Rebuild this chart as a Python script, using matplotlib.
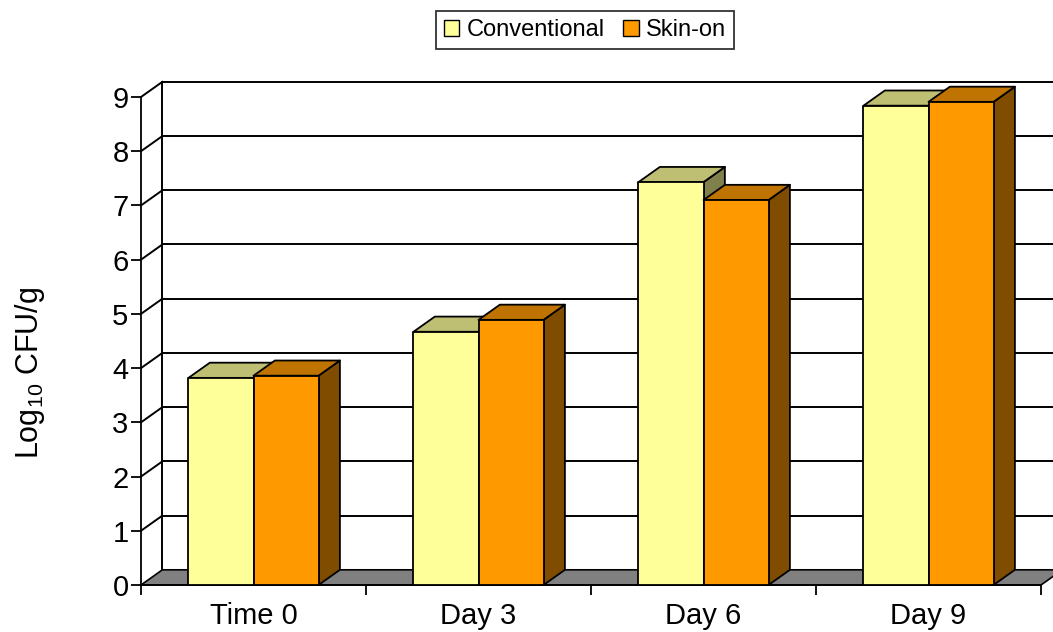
import matplotlib.pyplot as plt
from matplotlib.patches import Polygon, Patch

plt.rcParams['font.family'] = ['Liberation Sans', 'DejaVu Sans']
plt.rcParams['mathtext.fontset'] = 'custom'
plt.rcParams['mathtext.rm'] = 'Liberation Sans'
plt.rcParams['mathtext.it'] = 'Liberation Sans:italic'

categories = ['Time 0', 'Day 3', 'Day 6', 'Day 9']
conventional = [3.82, 4.67, 7.43, 8.84]
skin_on = [3.86, 4.89, 7.10, 8.91]

series = [('Conventional', conventional, (1.0, 1.0, 0.6)),
          ('Skin-on', skin_on, (1.0, 0.6, 0.0))]

# depth of the 3-D box, in data units
DX = 0.095
DY = 0.28
BAR_W = 0.289

fig = plt.figure(figsize=(10.53, 6.32), dpi=100)
ax = fig.add_axes([141 / 1053, 47 / 632, 900 / 1053, 488 / 632])
ax.set_xlim(0, len(categories))
ax.set_ylim(0, 9)
ax.patch.set_visible(False)

for s in ['top', 'right']:
    ax.spines[s].set_visible(False)
ax.spines['left'].set_linewidth(1.3)
ax.spines['bottom'].set_linewidth(1.3)

ax.set_yticks(range(10))
ax.tick_params(axis='y', direction='out', length=7, width=1.3, labelsize=21, pad=2)
ax.set_xticks(range(len(categories) + 1))
ax.set_xticklabels([])
ax.tick_params(axis='x', which='major', direction='out', length=7, width=1.3)
ax.set_xticks([i + 0.5 for i in range(len(categories))], minor=True)
ax.set_xticklabels(categories, minor=True, fontsize=21)
ax.tick_params(axis='x', which='minor', length=0, pad=12)

# walls and gridlines
x_end = len(categories) + 0.3
for v in range(1, 10):
    ax.plot([0, DX], [v, v + DY], color='black', lw=1.4, clip_on=False, zorder=1)
    ax.plot([DX, x_end], [v + DY, v + DY], color='black', lw=1.4, clip_on=False, zorder=1)
ax.plot([DX, DX], [DY, 9 + DY], color='black', lw=1.4, clip_on=False, zorder=1)

# floor
floor = Polygon([(0, 0), (len(categories), 0), (len(categories) + DX, DY), (DX, DY)],
                closed=True, facecolor='#808080', edgecolor='black', lw=1.2,
                clip_on=False, zorder=2)
ax.add_patch(floor)


def shade(c, k):
    return tuple(k * ch for ch in c)


z = 3
for i in range(len(categories)):
    for j, (name, vals, col) in enumerate(series):
        x0 = i + 0.5 - BAR_W + j * BAR_W
        x1 = x0 + BAR_W
        h = vals[i]
        side = Polygon([(x1, 0), (x1 + DX, DY), (x1 + DX, h + DY), (x1, h)],
                       closed=True, facecolor=shade(col, 0.5), edgecolor='black',
                       lw=1.3, joinstyle='round', clip_on=False, zorder=z)
        top = Polygon([(x0, h), (x0 + DX, h + DY), (x1 + DX, h + DY), (x1, h)],
                      closed=True, facecolor=shade(col, 0.75), edgecolor='black',
                      lw=1.3, joinstyle='round', clip_on=False, zorder=z + 1)
        front = Polygon([(x0, 0), (x1, 0), (x1, h), (x0, h)],
                        closed=True, facecolor=col, edgecolor='black',
                        lw=1.3, joinstyle='round', clip_on=False, zorder=z + 2)
        ax.add_patch(side)
        ax.add_patch(top)
        ax.add_patch(front)
        z += 3

fig.text(30 / 1053, 1 - 373 / 632, r'Log$_{10}$ CFU/g', rotation=90,
         ha='center', va='center', fontsize=22)

handles = [Patch(facecolor=col, edgecolor='black', lw=1.0, label=name)
           for name, vals, col in series]
leg = fig.legend(handles=handles, loc='center', bbox_to_anchor=(585 / 1053, 1 - 30 / 632),
                 ncol=2, fontsize=17, frameon=True, fancybox=False,
                 handlelength=0.65, handleheight=0.65, handletextpad=0.3,
                 columnspacing=0.8, borderpad=0.35, borderaxespad=0)
leg.get_frame().set_edgecolor('black')
leg.get_frame().set_linewidth(1.3)

fig.savefig('out.png', dpi=100)
